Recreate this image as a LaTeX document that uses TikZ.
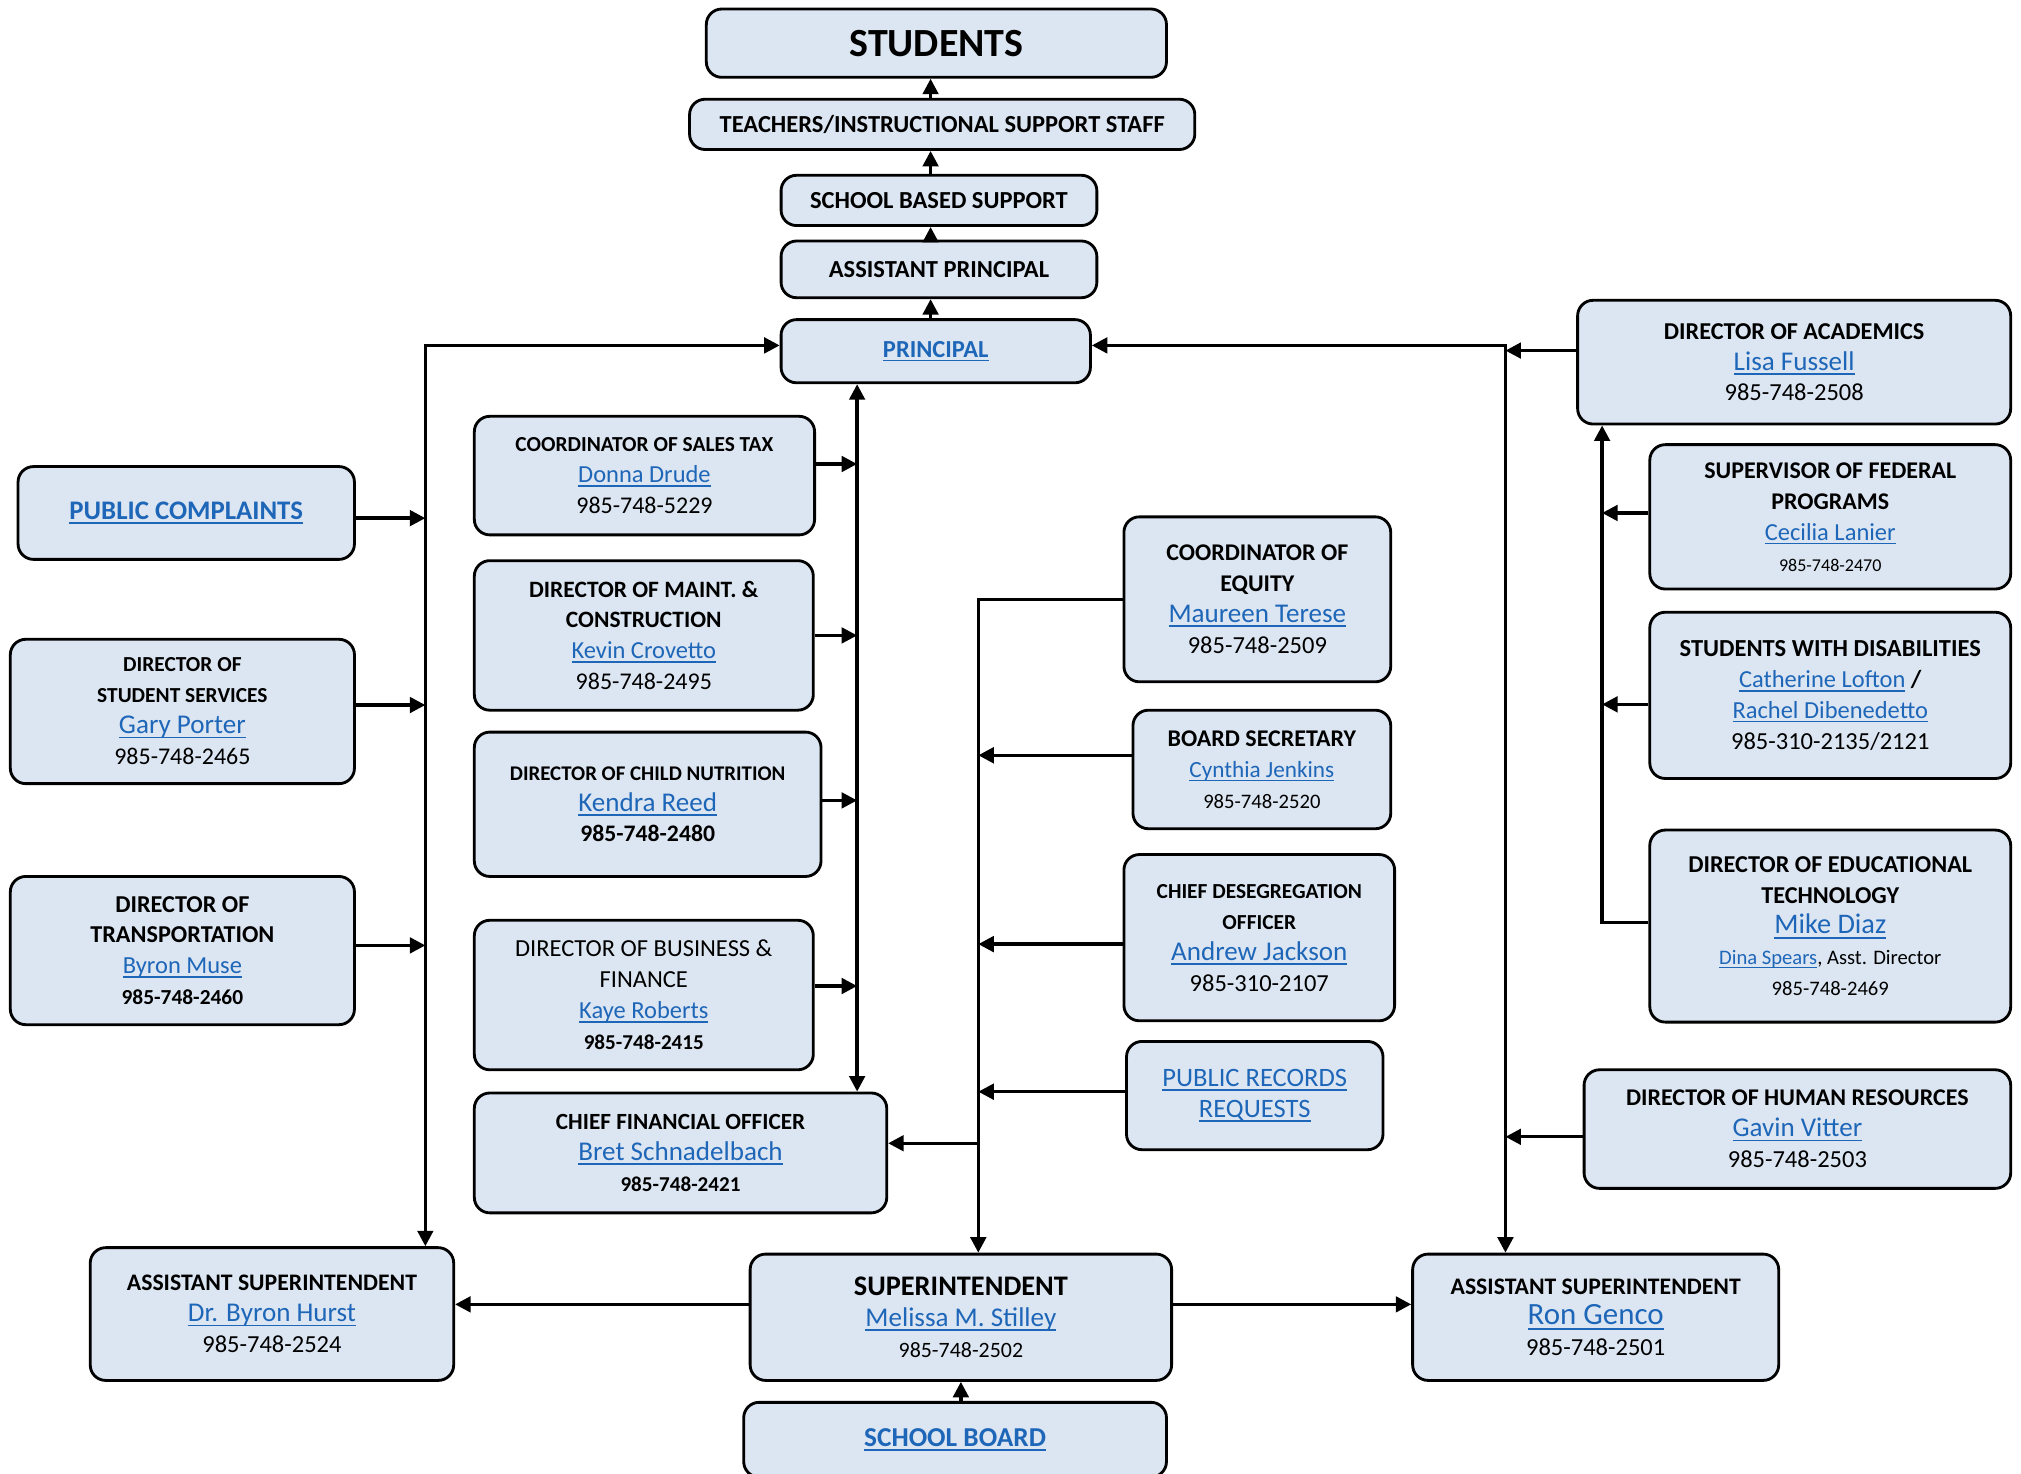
\documentclass[tikz,border=0pt]{standalone}
\usepackage{fontspec}
\setmainfont{Carlito}
\usetikzlibrary{arrows.meta}
\definecolor{boxfill}{RGB}{220,230,242}
\definecolor{linkblue}{RGB}{30,102,184}
\newcommand\myul[1]{\setbox0=\hbox{#1}\leavevmode\rlap{\rule[-0.17em]{\wd0}{0.065em}}\box0}
\newcommand\tb[2]{{\fontsize{#1}{13}\selectfont\bfseries #2}}
\newcommand\tr[2]{{\fontsize{#1}{13}\selectfont #2}}
\newcommand\lk[2]{{\fontsize{#1}{13}\selectfont\color{linkblue}\myul{#2}}}
\newcommand\lkb[2]{{\fontsize{#1}{13}\selectfont\bfseries\color{linkblue}\myul{#2}}}
\newcommand\bx[6]{%
  \pgfmathsetmacro\bw{(#4-#2)*0.5}\pgfmathsetmacro\bh{(#5-#3)*0.5}%
  \node[box, minimum width=\bw pt, minimum height=\bh pt] (#1) at ({(#2+#4)/2},{(#3+#5)/2}) {#6};}
\begin{document}
\begin{tikzpicture}[x=0.5pt,y=-0.5pt,
  box/.style={draw=black, line width=1.1pt, fill=boxfill, rounded corners=6pt, inner sep=0pt, align=center, font=\fontsize{9}{12}\selectfont},
  con/.style={line width=1.3pt, draw=black},
  >={Triangle[length=6pt,width=6pt]}]
\fill[white] (0,0) rectangle (1568,1143);
\useasboundingbox (0,0) rectangle (1568,1143);
% top chain
\bx{stu}{548}{7}{905}{60}{\tb{15.5}{STUDENTS}}
\bx{tea}{535}{77}{927}{116}{\tb{9.5}{TEACHERS/INSTRUCTIONAL SUPPORT STAFF}}
\bx{sbs}{606}{136}{851}{175}{\tb{9.5}{SCHOOL BASED SUPPORT}}
\bx{ap}{606}{187}{851}{231}{\tb{9.5}{ASSISTANT PRINCIPAL}}
\bx{pr}{606}{248}{846}{297}{\lkb{9.5}{PRINCIPAL}}
% left column
\bx{pc}{14}{362}{275}{434}{\lkb{10.4}{PUBLIC COMPLAINTS}}
\bx{dss}{8}{496}{275}{608}{\tb{8.3}{DIRECTOR OF}\\\tb{8.3}{STUDENT SERVICES}\\\lk{10.5}{Gary Porter}\\\tr{9.3}{985-748-2465}}
\bx{dt}{8}{680}{275}{795}{\tb{9.4}{DIRECTOR OF}\\\tb{9.4}{TRANSPORTATION}\\\lk{9.5}{Byron Muse}\\\tb{8.3}{985-748-2460}}
% middle column
\bx{st}{368}{323}{632}{415}{\tb{8.3}{COORDINATOR OF SALES TAX}\\\lk{9.5}{Donna Drude}\\\tr{9.3}{985-748-5229}}
\bx{dm}{368}{435}{631}{551}{\tb{9.1}{DIRECTOR OF MAINT. \&}\\\tb{9.1}{CONSTRUCTION}\\\lk{9.5}{Kevin Crovetto}\\\tr{9.3}{985-748-2495}}
\bx{cn}{368}{568}{637}{680}{\tb{8.1}{DIRECTOR OF CHILD NUTRITION}\\\lk{10.5}{Kendra Reed}\\\tb{9.2}{985-748-2480}}
\bx{db}{368}{714}{631}{830}{\tr{9.5}{DIRECTOR OF BUSINESS \&}\\\tr{9.5}{FINANCE}\\\lk{9.5}{Kaye Roberts}\\\tb{8.2}{985-748-2415}}
\bx{cfo}{368}{848}{688}{941}{\tb{9}{CHIEF FINANCIAL OFFICER}\\\lk{10.5}{Bret Schnadelbach}\\\tb{8.2}{985-748-2421}}
% centre-right column
\bx{eq}{872}{401}{1079}{529}{\tb{9.3}{COORDINATOR OF}\\\tb{9.3}{EQUITY}\\\lk{10.5}{Maureen Terese}\\\tr{9.5}{985-748-2509}}
\bx{bs}{879}{551}{1079}{643}{\tb{9.3}{BOARD SECRETARY}\\\lk{9}{Cynthia Jenkins}\\\tr{8}{985-748-2520}}
\bx{cdo}{872}{663}{1082}{792}{\tb{8.3}{CHIEF DESEGREGATION}\\\tb{8.3}{OFFICER}\\\lk{10.5}{Andrew Jackson}\\\tr{9.5}{985-310-2107}}
\bx{prr}{874}{808}{1073}{892}{\lk{10.3}{PUBLIC RECORDS}\\\lk{10.3}{REQUESTS}}
% right column
\bx{da}{1224}{233}{1560}{329}{\tb{9.4}{DIRECTOR OF ACADEMICS}\\\lk{10.5}{Lisa Fussell}\\\tr{9.5}{985-748-2508}}
\bx{fp}{1280}{345}{1560}{457}{\tb{9.3}{SUPERVISOR OF FEDERAL}\\\tb{9.3}{PROGRAMS}\\\lk{9.5}{Cecilia Lanier}\\\tr{7}{985-748-2470}}
\bx{swd}{1280}{475}{1560}{604}{\tb{9.5}{STUDENTS WITH DISABILITIES}\\\lk{9.5}{Catherine Lofton}\tb{9.5}{ /}\\\lk{9.5}{Rachel Dibenedetto}\\\tr{9.5}{985-310-2135/2121}}
\bx{det}{1280}{644}{1560}{793}{\tb{9.4}{DIRECTOR OF EDUCATIONAL}\\\tb{9.4}{TECHNOLOGY}\\\lk{11}{Mike Diaz}\\\lk{8}{Dina Spears}\tr{8}{, Asst. Director}\\\tr{8}{985-748-2469}}
\bx{hr}{1229}{830}{1560}{922}{\tb{9.3}{DIRECTOR OF HUMAN RESOURCES}\\\lk{10.5}{Gavin Vitter}\\\tr{9.5}{985-748-2503}}
% bottom row
\bx{asl}{70}{968}{352}{1071}{\tb{9.2}{ASSISTANT SUPERINTENDENT}\\\lk{10.5}{Dr. Byron Hurst}\\\tr{9.5}{985-748-2524}}
\bx{sup}{582}{973}{909}{1071}{\tb{11}{SUPERINTENDENT}\\\lk{10.5}{Melissa M. Stilley}\\\tr{8.5}{985-748-2502}}
\bx{asr}{1096}{973}{1380}{1071}{\tb{9.2}{ASSISTANT SUPERINTENDENT}\\\lk{12}{Ron Genco}\\\tr{9.5}{985-748-2501}}
\bx{sb}{577}{1088}{905}{1146}{\lkb{10.6}{SCHOOL BOARD}}
% line coordinates
\coordinate (TV) at (722,0);
\coordinate (LV) at (330,0);
\coordinate (MV) at (665,0);
\coordinate (RV) at (759,0);
\coordinate (RRV) at (1168,0);
\coordinate (IRV) at (1243,0);
% connectors
\draw[con,->] (TV |- pr.north) -- (TV |- ap.south);
\draw[con,->] (TV |- ap.north) -- (TV |- sbs.south);
\draw[con,->] (TV |- sbs.north) -- (TV |- tea.south);
\draw[con,->] (TV |- tea.north) -- (TV |- stu.south);
\draw[con,<->] ([yshift=2.25pt]pr.west) -| (LV |- asl.north);
\draw[con,->] ([yshift=-2pt]pc.east) -- ([yshift=-2pt]pc.east -| LV);
\draw[con,->] ([yshift=2.5pt]dss.east) -- ([yshift=2.5pt]dss.east -| LV);
\draw[con,->] ([yshift=2pt]dt.east) -- ([yshift=2pt]dt.east -| LV);
\draw[con,<->] (pr.south -| MV) -- (cfo.north -| MV);
\draw[con,->] ([yshift=4.5pt]st.east) -- ([yshift=4.5pt]st.east -| MV);
\draw[con,->] (dm.east) -- (dm.east -| MV);
\draw[con,->] ([yshift=1.5pt]cn.east) -- ([yshift=1.5pt]cn.east -| MV);
\draw[con,->] ([yshift=3.5pt]db.east) -- ([yshift=3.5pt]db.east -| MV);
\draw[con,->] (eq.west) -| (RV |- sup.north);
\draw[con,->] ([yshift=5.5pt]bs.west) -- ([yshift=5.5pt]bs.west -| RV);
\draw[con,->] ([yshift=-2.5pt]cdo.west) -- ([yshift=-2.5pt]cdo.west -| RV);
\draw[con,->] ([yshift=1.5pt]prr.west) -- ([yshift=1.5pt]prr.west -| RV);
\draw[con,->] ([yshift=3.75pt]RV |- cfo.east) -- ([yshift=3.75pt]cfo.east);
\draw[con,<->] ([yshift=2.25pt]pr.east) -| (RRV |- asr.north);
\draw[con,->] ([yshift=4.5pt]da.west) -- ([yshift=4.5pt]da.west -| RRV);
\draw[con,->] ([yshift=-3pt]hr.west) -- ([yshift=-3pt]hr.west -| RRV);
\draw[con,->] ([yshift=1.5pt]det.west) -| (IRV |- da.south);
\draw[con,->] ([yshift=1.5pt]fp.west) -- ([yshift=1.5pt]fp.west -| IRV);
\draw[con,->] ([yshift=-3.5pt]swd.west) -- ([yshift=-3.5pt]swd.west -| IRV);
\draw[con,->] ([yshift=5pt]sup.west) -- ([yshift=5pt]sup.west -| asl.east);
\draw[con,->] ([yshift=5pt]sup.east) -- ([yshift=5pt]sup.east -| asr.west);
\draw[con,->] (sup.south |- sb.north) -- (sup.south);
\end{tikzpicture}
\end{document}
